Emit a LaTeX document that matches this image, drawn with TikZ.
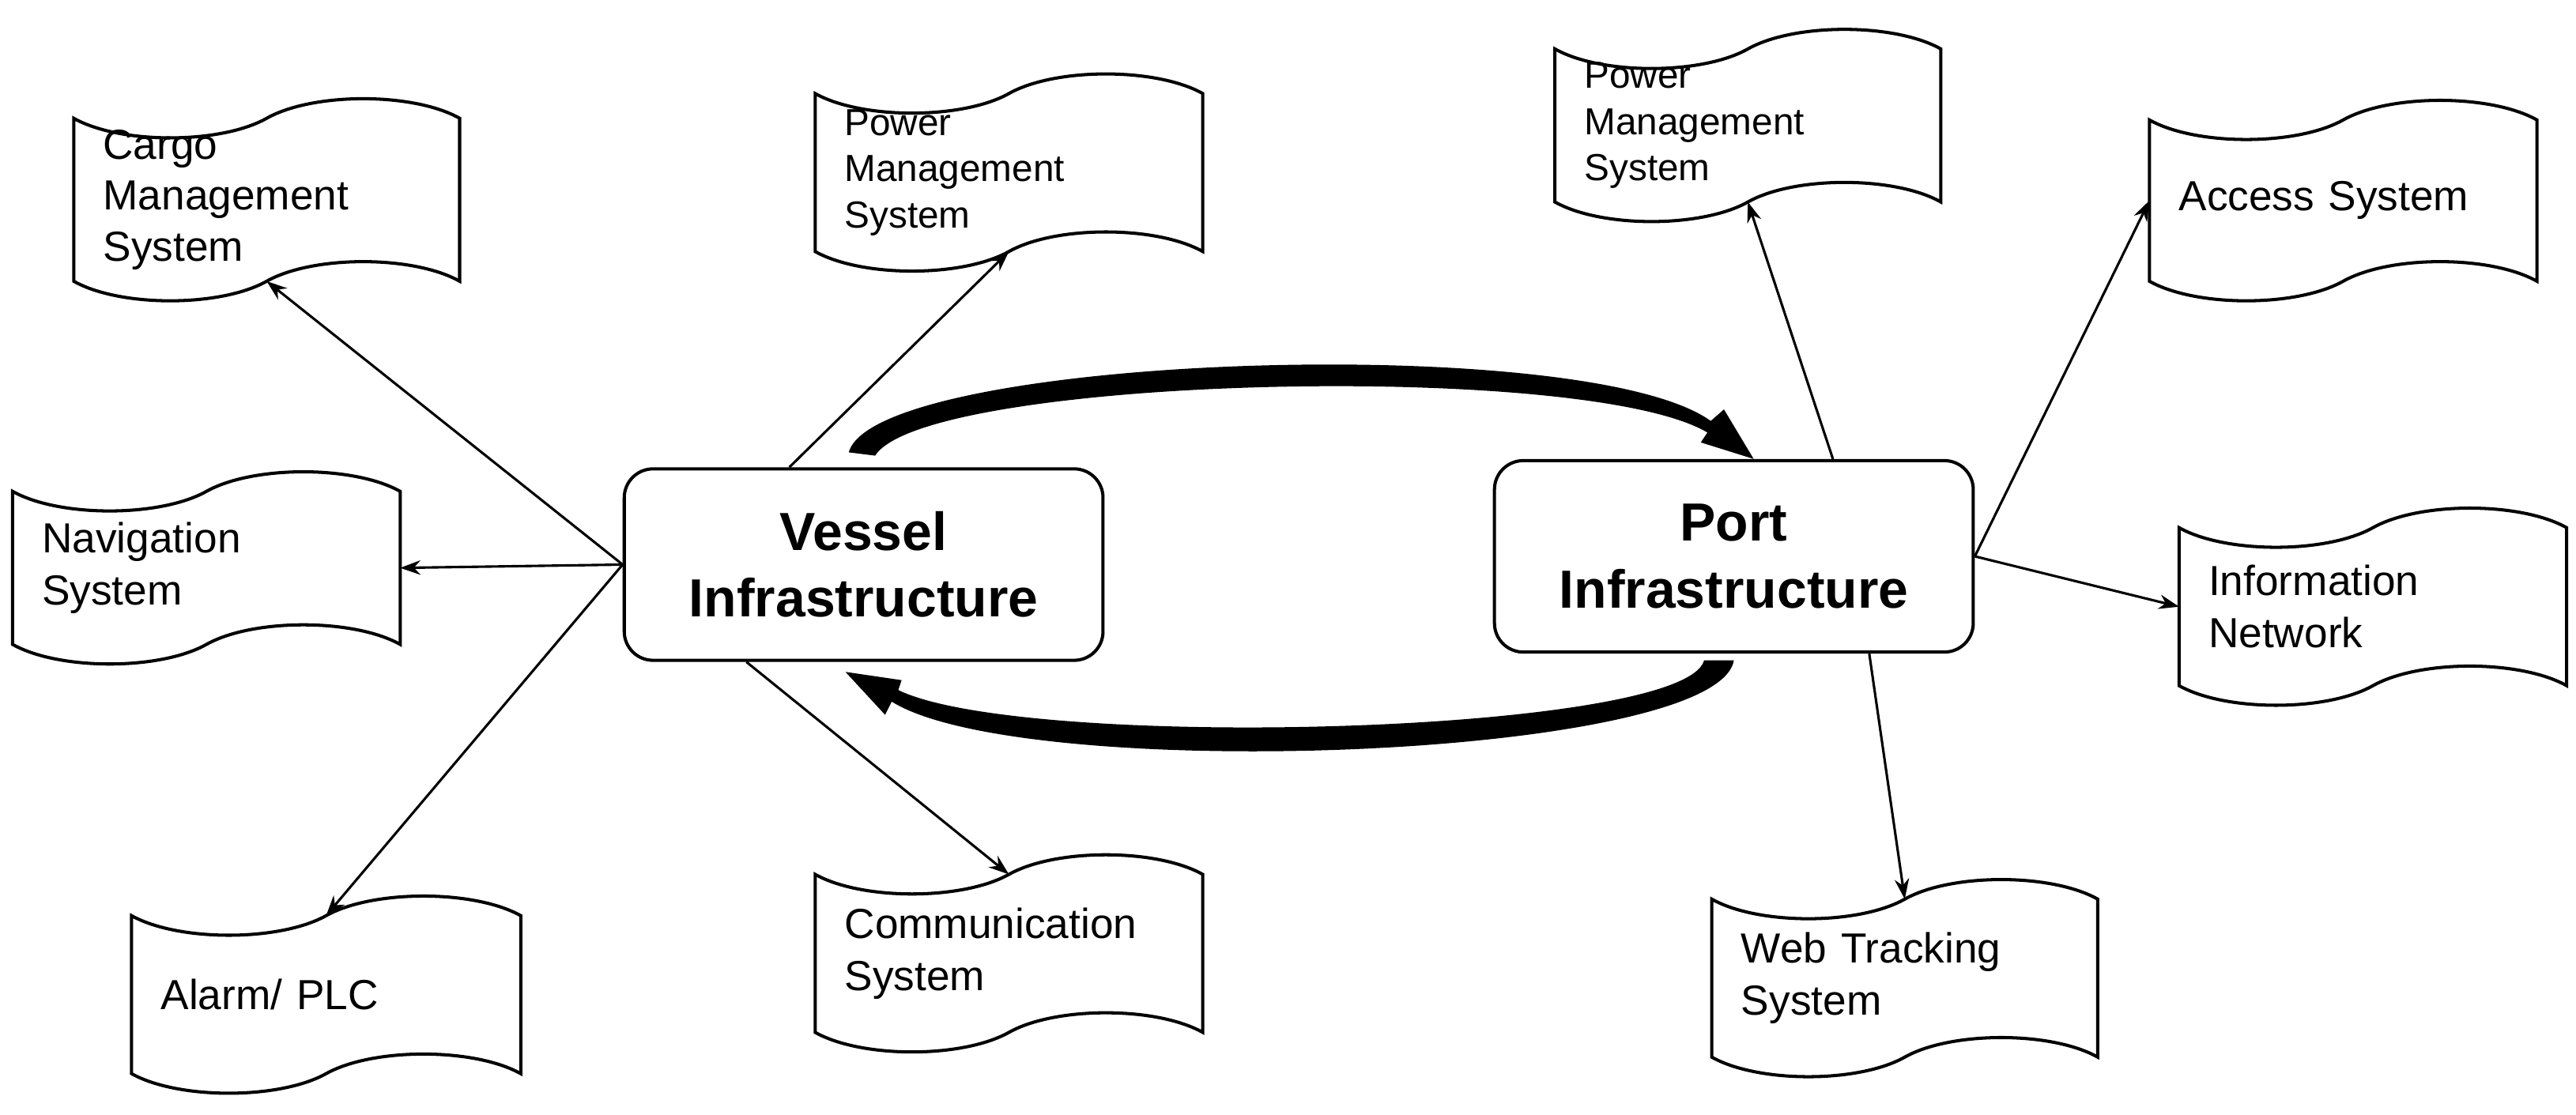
\documentclass[tikz,border=0pt]{standalone}
\usepackage{fontspec}
\setmainfont{Liberation Sans}
\usetikzlibrary{calc,arrows.meta}

% scroll outline drawn round a named node
\newcommand\scrollline[1]{%
  \draw[line width=1.1pt] let \p1=(#1.north west), \p2=(#1.south east),
      \n1={\x2-\x1}, \n2={(\x1+\x2)/2} in
    (\x1,\y1) .. controls ({\x1+0.12*\n1},{\y1-9pt}) and ({\n2-0.12*\n1},{\y1-9pt}) .. (\n2,\y1)
      .. controls ({\n2+0.12*\n1},{\y1+9pt}) and ({\x2-0.12*\n1},{\y1+9pt}) .. (\x2,\y1)
    -- (\x2,\y2) .. controls ({\x2-0.12*\n1},{\y2+9pt}) and ({\n2+0.12*\n1},{\y2+9pt}) .. (\n2,\y2)
      .. controls ({\n2-0.12*\n1},{\y2-9pt}) and ({\x1+0.12*\n1},{\y2-9pt}) .. (\x1,\y2) -- cycle;}
% name, left, top, right, bottom, font, text
\newcommand\scrollnode[7]{%
  \node[scroll, minimum width={(#4-#2)*0.02cm}, minimum height={(#5-#3)*0.02cm},
        text width={(#4-#2)*0.02cm-0.7cm}, font=#6] (#1) at ({(#2+#4)/2},{(#3+#5)/2}) {#7};
  \scrollline{#1}}

\tikzset{
  scroll/.style={draw=none, inner xsep=0.34cm, inner ysep=0pt, align=left},
  infra/.style={draw, line width=1.1pt, rounded corners=0.35cm, minimum width=5.8cm,
    minimum height=2.32cm, align=center, font=\fontsize{18.5}{23}\selectfont\bfseries},
  link/.style={line width=0.85pt, -{Stealth[length=7pt,width=5pt]}},
}

\begin{document}
\begin{tikzpicture}[x=0.02cm, y=-0.02cm]
  \useasboundingbox (0,0) rectangle (1560,675.4);

  \node[infra] (vessel) at (523,342) {Vessel\\Infrastructure};
  \node[infra] (port) at (1050,337) {Port\\Infrastructure};

  \scrollnode{cargo}{45}{72}{278}{170}{\fontsize{14.5}{17.5}\selectfont}{Cargo\\Management\\System}
  \scrollnode{powv}{494}{57}{728}{152}{\fontsize{13}{16}\selectfont}{Power\\Management\\System}
  \scrollnode{nav}{8}{298}{242}{390}{\fontsize{14.5}{18}\selectfont}{Navigation\\System}
  \scrollnode{alarm}{80}{555}{315}{650}{\fontsize{14.5}{18}\selectfont}{Alarm/ PLC}
  \scrollnode{comm}{494}{530}{728}{625}{\fontsize{14.5}{18}\selectfont}{Communication\\System}
  \scrollnode{powp}{942}{30}{1175}{122}{\fontsize{13}{16}\selectfont}{Power\\Management\\System}
  \scrollnode{access}{1302}{73}{1536}{170}{\fontsize{14.5}{18}\selectfont}{Access System}
  \scrollnode{info}{1320}{320}{1554}{415}{\fontsize{14.5}{18}\selectfont}{Information\\Network}
  \scrollnode{web}{1037}{545}{1270}{640}{\fontsize{14.5}{18}\selectfont}{Web Tracking\\System}

  % vessel side
  \draw[link] (vessel.west) -- (cargo.south);
  \draw[link] (vessel.west) -- (nav.east);
  \draw[link] (vessel.west) -- (alarm.north);
  \draw[link] ($(vessel.north)+(-45,0)$) -- (powv.south);
  \draw[link] ($(vessel.south)+(-71,0)$) -- (comm.north);

  % port side
  \draw[link] ($(port.north)+(60,0)$) -- (powp.south);
  \draw[link] (port.east) -- (access.west);
  \draw[link] (port.east) -- (info.west);
  \draw[link] ($(port.south)+(82,0)$) -- (web.north);

  % exchange arrows
  \fill (514,274) .. controls (530,215) and (960,200) .. (1036,255) -- (1044,248) -- (1062,278)
    -- (1030,268) -- (1034,262) .. controls (960,218) and (560,228) .. (530,276) -- cycle;
  \fill (1050,400) .. controls (1040,460) and (620,475) .. (540,425) -- (536,433) -- (512,407)
    -- (546,412) -- (544,418) .. controls (620,455) and (1020,445) .. (1032,400) -- cycle;
\end{tikzpicture}
\end{document}
